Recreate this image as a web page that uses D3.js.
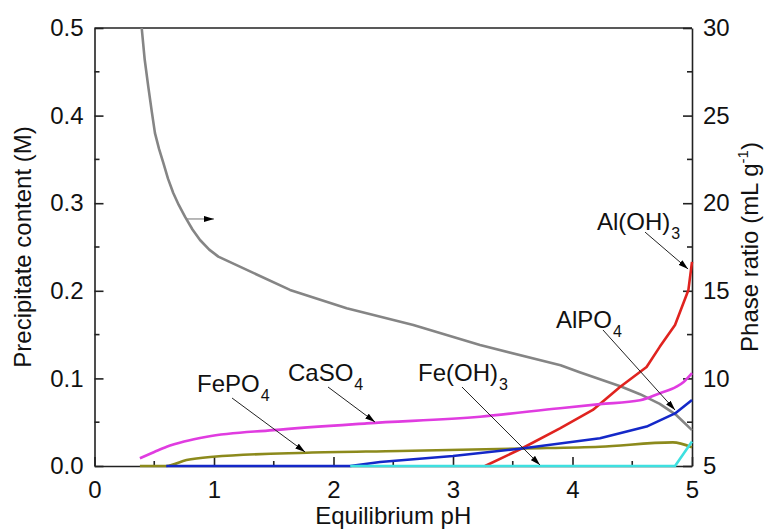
<!DOCTYPE html>
<html>
  <head>
    <meta charset="utf-8">
    <title>Precipitate content vs pH</title>
    <style>
      body { margin: 0; background: #fff; }
      svg { display: block; font-family: "Liberation Sans", Arial, sans-serif; }
      .axis path, .axis line { stroke: #222; stroke-width: 1.6; }
      .axis text { font-size: 24px; fill: #111; }
      .lbl { font-size: 24px; fill: #111; }
    </style>
    <script src="https://cdn.jsdelivr.net/npm/d3@7"></script>
  </head>
  <body>
    <svg id="chart" width="768" height="531"></svg>
    <script>
      // phase ratio (right axis, mL/g)
      var ratioPH = [0.395, 0.42, 0.45, 0.48, 0.506, 0.54, 0.576, 0.615, 0.659, 0.705, 0.757, 0.82, 0.883, 0.96, 1.036, 1.636, 2.11, 2.668, 3.226, 3.9, 4.06, 4.4, 4.565, 4.73, 4.87, 5.0];
      var ratioVal = [30.0, 28.2, 26.65, 25.2, 24.0, 23.1, 22.3, 21.4, 20.58, 19.9, 19.23, 18.5, 17.9, 17.35, 16.95, 15.05, 14.0, 13.05, 11.9, 10.75, 10.35, 9.55, 9.1, 8.55, 7.9, 7.05];

      // precipitates (left axis, M)
      var aloh3PH = [3.268, 3.575, 3.895, 4.17, 4.4, 4.62, 4.73, 4.858, 4.97, 5.0];
      var aloh3Val = [0.0, 0.020, 0.043, 0.064, 0.0905, 0.113, 0.136, 0.161, 0.201, 0.233];
      var caso4PH = [0.38, 0.5, 0.604, 0.75, 0.94, 1.496, 2.278, 3.226, 3.895, 4.23, 4.565, 4.73, 4.87, 4.93, 5.0];
      var caso4Val = [0.0088, 0.016, 0.022, 0.028, 0.0335, 0.041, 0.0487, 0.0563, 0.066, 0.0706, 0.075, 0.083, 0.0905, 0.096, 0.106];
      var alpo4PH = [0.6, 2.14, 2.39, 3.0, 3.575, 4.23, 4.62, 4.858, 5.0];
      var alpo4Val = [0, 0, 0.0045, 0.0114, 0.020, 0.0316, 0.045, 0.060, 0.0753];
      var fepo4PH = [0.38, 0.6, 0.77, 0.994, 1.776, 2.556, 3.575, 4.23, 4.84, 5.0];
      var fepo4Val = [0, 0, 0.0068, 0.0106, 0.0152, 0.0171, 0.020, 0.022, 0.027, 0.0213];
      var feoh3PH = [2.14, 4.858, 5.0];
      var feoh3Val = [0, 0, 0.028];

      var xTicks = [0, 1, 2, 3, 4, 5];
      var yLeftTicks = [0, 0.1, 0.2, 0.3, 0.4, 0.5];
      var yRightTicks = [5, 10, 15, 20, 25, 30];

      // labels: [name, subscript, pH, M] ; arrows: [pH0, M0, pH1, M1]
      var labels = [
        ["FePO", "4", 0.858, 0.0845],
        ["CaSO", "4", 1.619, 0.097],
        ["Fe(OH)", "3", 2.707, 0.097],
        ["AlPO", "4", 3.862, 0.1575],
        ["Al(OH)", "3", 4.205, 0.2694]
      ];
      var arrows = [
        [1.151, 0.0776, 1.762, 0.016],
        [1.954, 0.0902, 2.347, 0.0502],
        [3.075, 0.0902, 3.728, 0.0011],
        [4.255, 0.1553, 4.858, 0.0639],
        [4.607, 0.267, 4.967, 0.2249]
      ];
      var ratioArrow = [0.774, 0.282, 1.0, 0.282];

      var svg = d3.select('#chart');
      var x = d3.scaleLinear().domain([0, 5]).range([94.5, 692]);
      var yL = d3.scaleLinear().domain([0, 0.5]).range([466, 28]);
      var yR = d3.scaleLinear().domain([5, 30]).range([466, 28]);

      var defs = svg.append('defs');
      defs.append('marker').attr('id', 'head').attr('viewBox', '0 0 10 6')
        .attr('refX', 10).attr('refY', 3).attr('markerWidth', 10).attr('markerHeight', 6)
        .attr('markerUnits', 'userSpaceOnUse').attr('orient', 'auto')
        .append('path').attr('d', 'M0,0L10,3L0,6Z').attr('fill', '#000');

      // minor ticks (inward)
      function minor(axisG, vals, len, fn) {
        axisG.selectAll('line.minor').data(vals).enter().append('line').attr('class', 'minor')
          .each(function(d) { fn(d3.select(this), d, len); });
      }

      var gx = svg.append('g').attr('class', 'axis').attr('transform', 'translate(0,466)')
        .call(d3.axisBottom(x).tickValues(xTicks).tickSizeInner(-9).tickSizeOuter(0).tickPadding(15).tickFormat(d3.format('d')));
      gx.selectAll('.tick text').attr('dy', '0.71em');
      minor(gx, [0.5, 1.5, 2.5, 3.5, 4.5], 5, function(s, d, l) { s.attr('x1', x(d)).attr('x2', x(d)).attr('y1', 0).attr('y2', -l); });

      var gl = svg.append('g').attr('class', 'axis').attr('transform', 'translate(94.5,0)')
        .call(d3.axisLeft(yL).tickValues(yLeftTicks).tickSizeInner(-9).tickSizeOuter(0).tickPadding(11).tickFormat(d3.format('.1f')));
      minor(gl, [0.05, 0.15, 0.25, 0.35, 0.45], 5, function(s, d, l) { s.attr('y1', yL(d)).attr('y2', yL(d)).attr('x1', 0).attr('x2', l); });

      var gr = svg.append('g').attr('class', 'axis').attr('transform', 'translate(692,0)')
        .call(d3.axisRight(yR).tickValues(yRightTicks).tickSizeInner(-9).tickSizeOuter(0).tickPadding(11));
      minor(gr, [7.5, 12.5, 17.5, 22.5, 27.5], 5, function(s, d, l) { s.attr('y1', yR(d)).attr('y2', yR(d)).attr('x1', 0).attr('x2', -l); });

      svg.append('line').attr('x1', x(0)).attr('x2', x(5)).attr('y1', yL(0.5)).attr('y2', yL(0.5))
        .attr('stroke', '#222').attr('stroke-width', 1.6);

      // series
      function draw(px, py, yScale, color, curve) {
        var pts = px.map(function(v, i) { return [v, py[i]]; });
        var line = d3.line().x(function(d) { return x(d[0]); }).y(function(d) { return yScale(d[1]); })
          .curve(curve);
        svg.append('path').datum(pts).attr('d', line).attr('fill', 'none')
          .attr('stroke', color).attr('stroke-width', 2.6).attr('stroke-linejoin', 'round');
      }
      draw(ratioPH, ratioVal, yR, '#858585', d3.curveLinear);
      draw(aloh3PH, aloh3Val, yL, '#e0231f', d3.curveLinear);
      draw(caso4PH, caso4Val, yL, '#e03ce0', d3.curveMonotoneX);
      draw(fepo4PH, fepo4Val, yL, '#8c8a1c', d3.curveMonotoneX);
      draw(alpo4PH, alpo4Val, yL, '#1428c8', d3.curveLinear);
      draw(feoh3PH, feoh3Val, yL, '#3ee0e0', d3.curveLinear);

      // annotations
      svg.selectAll('line.arr').data(arrows).enter().append('line').attr('class', 'arr')
        .attr('x1', function(d) { return x(d[0]); }).attr('y1', function(d) { return yL(d[1]); })
        .attr('x2', function(d) { return x(d[2]); }).attr('y2', function(d) { return yL(d[3]); })
        .attr('stroke', '#222').attr('stroke-width', 1).attr('marker-end', 'url(#head)');
      svg.append('line')
        .attr('x1', x(ratioArrow[0])).attr('y1', yL(ratioArrow[1]))
        .attr('x2', x(ratioArrow[2])).attr('y2', yL(ratioArrow[3]))
        .attr('stroke', '#888').attr('stroke-width', 1.2).attr('marker-end', 'url(#head)');

      var t = svg.selectAll('text.lbl').data(labels).enter().append('text').attr('class', 'lbl')
        .attr('x', function(d) { return x(d[2]); }).attr('y', function(d) { return yL(d[3]); });
      t.append('tspan').text(function(d) { return d[0]; });
      t.append('tspan').attr('font-size', 16).attr('dx', 1).attr('dy', 9).text(function(d) { return d[1]; });

      // axis titles
      svg.append('text').attr('class', 'lbl').attr('text-anchor', 'middle')
        .attr('x', x(2.5)).attr('y', 524).text('Equilibrium pH');
      svg.append('text').attr('class', 'lbl').attr('text-anchor', 'middle')
        .attr('transform', 'translate(31,' + yL(0.25) + ') rotate(-90)').text('Precipitate content (M)');
      var rt = svg.append('text').attr('class', 'lbl').attr('text-anchor', 'middle')
        .attr('transform', 'translate(758,' + yL(0.25) + ') rotate(-90)');
      rt.append('tspan').text('Phase ratio (mL g');
      rt.append('tspan').attr('font-size', 15).attr('dy', -10).text('-1');
      rt.append('tspan').attr('dy', 10).text(')');
    </script>
  </body>
</html>
